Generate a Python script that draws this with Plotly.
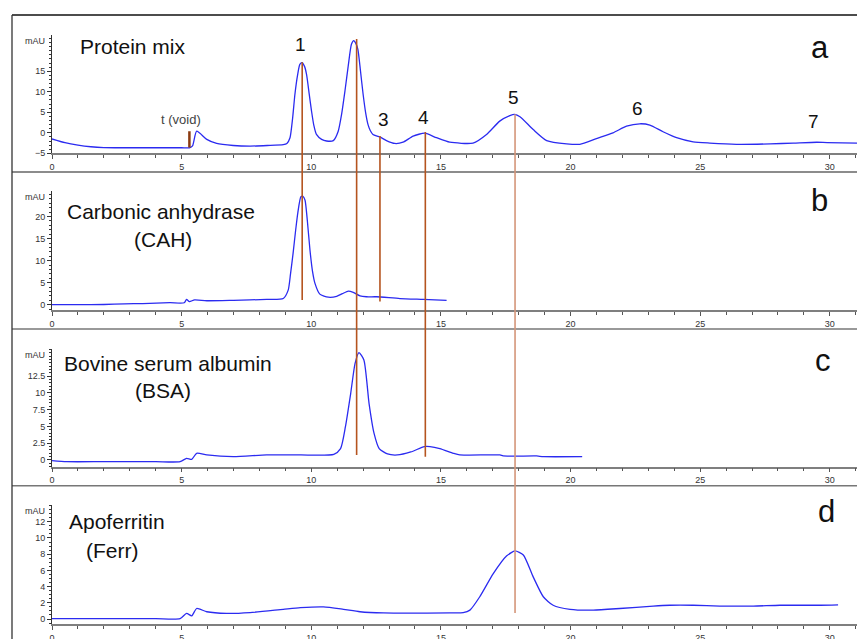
import plotly.graph_objects as go

# ---------------- data ----------------
t_a = [0, 0.5, 1, 1.5, 2, 3, 4, 5, 5.3, 5.42, 5.58, 5.97, 6.35, 6.99, 7.64, 8.3, 8.92, 9.06,
       9.18, 9.28, 9.37, 9.47, 9.56, 9.65, 9.74, 9.82, 9.92, 10.01, 10.1, 10.2, 10.4, 10.59, 10.85,
       11.04, 11.17, 11.3, 11.43, 11.55, 11.64, 11.72, 11.8, 11.9, 12.0, 12.1, 12.19, 12.28, 12.38,
       12.64, 12.9, 13.22, 13.54, 13.93, 14.38, 14.83, 15.34, 16.24, 16.76, 17.27, 17.66, 17.85,
       18.05, 18.56, 19.08, 19.85, 20.36, 21.0, 21.64, 22.16, 22.67, 23.06, 23.57, 24.09, 24.73,
       25.37, 26.4, 27.7, 28.6, 29.5, 29.9, 31.05]
v_a = [-1.5, -2.4, -3.0, -3.4, -3.6, -3.65, -3.65, -3.65, -3.65, -3.2, 0.4, -1.6, -2.6, -3.1,
       -3.25, -3.1, -2.9, -2.6, -1.2, 3.5, 9.4, 14.0, 16.7, 17.1, 16.2, 14.2, 9.5, 5.3, 1.8, -0.4,
       -1.6, -2.0, -1.9, 0.4, 4.5, 10.2, 16.5, 21.6, 22.5, 21.8, 20.3, 15.0, 9.4, 4.8, 2.0, 0.5,
       -0.4, -1.0, -1.9, -2.6, -2.3, -0.8, -0.1, -1.2, -2.3, -2.5, -0.4, 2.85, 4.2, 4.5, 3.9, 0.8,
       -1.9, -2.7, -2.8, -1.4, 0.0, 1.6, 2.2, 1.9, 0.25, -1.2, -2.2, -2.5, -2.8, -2.7, -2.5, -2.3,
       -2.4, -2.5]

t_b = [0, 1, 2, 2.8, 3.5, 4.55, 5.1, 5.19, 5.3, 5.5, 5.97, 7, 8.28, 8.92, 9.11, 9.2, 9.3, 9.4,
       9.48, 9.6, 9.68, 9.76, 9.85, 9.95, 10.05, 10.14, 10.33, 10.66, 10.98, 11.2, 11.43, 11.62,
       11.88, 12.13, 12.52, 13.42, 14.32, 15.22]
v_b = [0, 0, 0.05, 0.2, 0.25, 0.45, 0.45, 1.2, 0.7, 1.1, 0.9, 1.0, 1.2, 1.4, 3.3, 7.0, 11.7,
       17.0, 20.8, 24.5, 24.6, 23.7, 19.0, 12.4, 7.5, 4.9, 2.4, 1.7, 1.9, 2.5, 3.1, 2.8, 2.0, 1.8,
       1.8, 1.4, 1.2, 1.0]

t_c = [0, 0.57, 2, 4, 4.94, 5.19, 5.39, 5.58, 5.97, 6.99, 8.28, 9.58, 10.87, 11.13, 11.32,
       11.52, 11.69, 11.84, 12.03, 12.23, 12.42, 12.62, 12.94, 13.32, 13.84, 14.36, 14.58, 14.96,
       15.48, 15.73, 17.28, 17.4, 18.69, 18.95, 20.45]
v_c = [-0.1, -0.25, -0.25, -0.25, -0.25, 0.25, 0.1, 1.0, 0.75, 0.5, 0.75, 0.75, 0.85, 1.7, 5.0,
       9.9, 14.4, 16.0, 14.9, 8.4, 4.0, 1.7, 0.9, 0.75, 1.2, 2.0, 2.0, 1.7, 1.0, 0.75, 0.75, 0.6,
       0.6, 0.5, 0.5]

t_d = [0, 2, 4, 4.94, 5.19, 5.39, 5.58, 5.97, 6.73, 7.64, 8.92, 9.58, 10.47, 11.24, 11.88,
       12.78, 15.35, 15.86, 16.12, 16.5, 17.02, 17.54, 17.86, 18.18, 18.56, 18.95, 19.33, 19.98,
       20.88, 21.9, 23.19, 23.83, 24.73, 25.76, 27.05, 28.08, 29.62, 30.32]
v_d = [0.05, 0.05, 0.05, 0.05, 0.7, 0.4, 1.3, 0.9, 0.7, 0.8, 1.2, 1.4, 1.5, 1.2, 0.9, 0.75,
       0.75, 0.78, 1.1, 2.75, 5.6, 7.8, 8.4, 7.9, 5.2, 2.75, 1.7, 1.2, 1.1, 1.3, 1.6, 1.7, 1.7,
       1.6, 1.6, 1.7, 1.7, 1.75]

x_ticks = [0, 5, 10, 15, 20, 25, 30]
y_ticks_a = [-5, 0, 5, 10, 15]
y_ticks_b = [0, 5, 10, 15, 20]
y_ticks_c = [0, 2.5, 5, 7.5, 10, 12.5]
y_ticks_d = [0, 2, 4, 6, 8, 10, 12]

peak_labels = ["1", "2", "3", "4", "5", "6", "7"]
peak_times = [9.65, 11.75, 12.65, 14.4, 17.86]   # retention markers
void_time = 5.3

panel_names = [["Protein mix"], ["Carbonic anhydrase", "(CAH)"],
               ["Bovine serum albumin", "(BSA)"], ["Apoferritin", "(Ferr)"]]
panel_letters = ["a", "b", "c", "d"]

# ---------------- layout geometry ----------------
W, H = 857, 639
FONT = "Liberation Sans, Arial, sans-serif"
BLUE = "#2b2bf0"
RUST = "#b5541f"
LIGHT = "#d4967a"
X_RANGE = [0, 31.05]

# panel pixel extents (top, bottom) and y ranges
panels = [
    dict(top=35, bottom=153.3, yr=[-5, 23.85], ticks=y_ticks_a, minor=1),
    dict(top=191, bottom=310.3, yr=[-1.27, 25.8], ticks=y_ticks_b, minor=1),
    dict(top=349.3, bottom=466.7, yr=[-1.0, 16.5], ticks=y_ticks_c, minor=0.5),
    dict(top=505, bottom=624.3, yr=[-0.65, 14.07], ticks=y_ticks_d, minor=0.5),
]
for p in panels:
    p["dom"] = [1 - p["bottom"] / H, 1 - p["top"] / H]


def to_paper(i, v):
    p = panels[i]
    lo, hi = p["yr"]
    return p["dom"][0] + (v - lo) / (hi - lo) * (p["dom"][1] - p["dom"][0])


def px_to_paper_y(py):
    return 1 - py / H


def px_to_paper_x(px):
    return (px - 52) / (W - 52)


fig = go.Figure()
series = [(t_a, v_a), (t_b, v_b), (t_c, v_c), (t_d, v_d)]
for i, (t, v) in enumerate(series):
    sfx = "" if i == 0 else str(i + 1)
    fig.add_trace(go.Scatter(x=t, y=v, mode="lines", xaxis="x" + sfx, yaxis="y" + sfx,
                             line=dict(color=BLUE, width=1.3, shape="spline", smoothing=0.6),
                             hoverinfo="skip", showlegend=False))

layout = dict(width=W, height=H, margin=dict(l=52, r=0, t=0, b=0, autoexpand=False),
              paper_bgcolor="white", plot_bgcolor="white", showlegend=False,
              font=dict(family=FONT, color="#222"))
for i, p in enumerate(panels):
    sfx = "" if i == 0 else str(i + 1)
    layout["xaxis" + sfx] = dict(
        domain=[0, 1], range=X_RANGE, anchor="y" + sfx, showgrid=False, zeroline=False,
        showline=True, linecolor="#7f7f7f", linewidth=1.5, ticks="outside", ticklen=4,
        tickcolor="#555", tickvals=x_ticks, tickfont=dict(size=9, color="#333"),
        minor=dict(dtick=1, ticks="outside", ticklen=3, tickcolor="#555"),
        fixedrange=True, automargin=False)
    layout["yaxis" + sfx] = dict(
        domain=p["dom"], range=p["yr"], anchor="x" + sfx, showgrid=False, zeroline=False,
        showline=True, linecolor="#333", linewidth=1, ticks="outside", ticklen=4,
        tickcolor="#333", tickvals=p["ticks"], tickfont=dict(size=9, color="#333"),
        minor=dict(dtick=p["minor"], ticks="outside", ticklen=2, tickcolor="#333"),
        fixedrange=True, automargin=False)
fig.update_layout(**layout)

shapes = []
# panel separators and frame
sep_px = [(15, "#111", 1.6), (172, "#666", 1.5), (329, "#777", 1.5), (485.7, "#777", 1.5)]
for py, col, w in sep_px:
    shapes.append(dict(type="line", xref="paper", yref="paper", x0=px_to_paper_x(12), x1=1.0,
                       y0=px_to_paper_y(py), y1=px_to_paper_y(py), line=dict(color=col, width=w)))
shapes.append(dict(type="line", xref="paper", yref="paper", x0=px_to_paper_x(12),
                   x1=px_to_paper_x(12), y0=px_to_paper_y(15), y1=0,
                   line=dict(color="#333", width=1.3)))

# retention markers crossing panels: (time, top value in panel a, bottom panel, bottom value, colour)
marker_spans = [(peak_times[0], 17.2, 1, 1.07, RUST),
                (peak_times[1], 22.9, 2, 0.74, RUST),
                (peak_times[2], -0.8, 1, 0.7, RUST),
                (peak_times[3], 0.17, 2, 0.5, RUST),
                (peak_times[4], 4.5, 3, 0.74, LIGHT)]
for tm, vtop, pb, vbot, col in marker_spans:
    shapes.append(dict(type="line", xref="x", yref="paper", x0=tm, x1=tm,
                       y0=to_paper(pb, vbot), y1=to_paper(0, vtop),
                       line=dict(color=col, width=1.6)))
# void marker
shapes.append(dict(type="line", xref="x", yref="y", x0=void_time, x1=void_time, y0=-3.6, y1=0.4,
                   line=dict(color="#8b3a10", width=2.5)))
fig.update_layout(shapes=shapes)

ann = []
# peak numbers (panel a)
peak_pos = [(9.59, 21.56), (11.27, 24.56), (12.8, 3.27), (14.32, 3.66), (17.79, 8.54),
            (22.57, 5.95), (29.36, 2.85)]
for lab, (x, y) in zip(peak_labels, peak_pos):
    ann.append(dict(x=x, y=y, xref="x", yref="y", text=lab, showarrow=False,
                    font=dict(size=19, color="#111")))
ann.append(dict(x=4.96, y=3.26, xref="x", yref="y", text="t (void)", showarrow=False,
                font=dict(size=13, color="#444")))

name_pos = [[(3.12, 21.1)], [(4.22, 21.1), (4.28, 14.7)], [(4.47, 14.43), (4.28, 10.4)],
            [(2.51, 12.0), (2.3, 8.5)]]
letter_pos = [(29.62, 20.73), (29.62, 23.6), (29.73, 14.9), (29.87, 13.25)]
for i in range(4):
    sfx = "" if i == 0 else str(i + 1)
    for txt, (x, y) in zip(panel_names[i], name_pos[i]):
        ann.append(dict(x=x, y=y, xref="x" + sfx, yref="y" + sfx, text=txt, showarrow=False,
                        font=dict(size=21, color="#111")))
    lx, ly = letter_pos[i]
    ann.append(dict(x=lx, y=ly, xref="x" + sfx, yref="y" + sfx, text=panel_letters[i],
                    showarrow=False, font=dict(size=31, color="#111")))
    ann.append(dict(x=0, y=1, xref="paper", yref="y" + sfx + " domain", text="mAU",
                    showarrow=False, xanchor="right", xshift=-5, yshift=1,
                    font=dict(size=9, color="#333")))
fig.update_layout(annotations=ann)

fig.write_html("out.html", config={"displayModeBar": False},
               post_script="document.body.style.margin='0';document.body.style.overflow='hidden';")
